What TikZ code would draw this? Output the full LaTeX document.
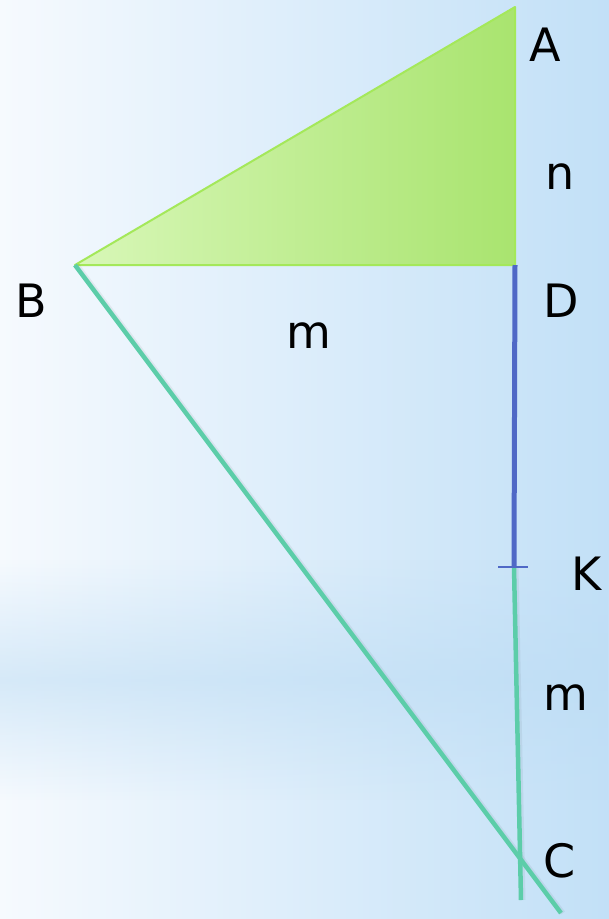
\documentclass[tikz,border=0pt]{standalone}
\usepackage{fontspec}
\setmainfont{DejaVu Sans}
\usetikzlibrary{fadings}
\definecolor{bgleft}{HTML}{F6FAFE}
\definecolor{bgright}{HTML}{C2E0F7}
\definecolor{bgband}{HTML}{BCDCF4}
\definecolor{triedge}{HTML}{A4E85A}
\definecolor{trileft}{HTML}{D8F7B8}
\definecolor{triright}{HTML}{A9E46F}
\definecolor{seggreen}{HTML}{5CCDA9}
\definecolor{segblue}{HTML}{4F68C6}
\tikzfading[name=bandfade, top color=transparent!100, bottom color=transparent!100, middle color=transparent!45]
\begin{document}
\begin{tikzpicture}[x=1pt, y=-1pt,
    lbl/.style={inner sep=0pt, font=\fontsize{46}{50}\selectfont},
    seg/.style={line width=4.5pt, seggreen},
    shadowline/.style={line width=2pt, black, opacity=0.05}]
    \useasboundingbox (0,0) rectangle (609,919);

    % Background
    \shade[left color=bgleft, right color=bgright] (0,0) rectangle (609,919);
    \fill[bgband, path fading=bandfade] (0,560) rectangle (609,800);

    % Points
    \coordinate (A) at (515,7);
    \coordinate (B) at (75,265);
    \coordinate (D) at (515,265);
    \coordinate (K) at (514,567);
    \coordinate (F) at (521,900);
    \coordinate (E) at (561,913);

    % Triangle ABD
    \foreach \i/\o in {2/0.14,4/0.10,6/0.07,8/0.04,10/0.02}
        \draw[shadowline, opacity=\o] ([xshift=18pt, yshift=\i pt]B) -- ([xshift=-3pt, yshift=\i pt]D);
    \shade[left color=trileft, right color=triright] (B) -- (A) -- (D) -- cycle;
    \draw[triedge, line width=2pt, line join=round] (B) -- (A) -- (D) -- cycle;

    % Segments
    \draw[shadowline, line width=5pt] ([xshift=2pt]B) -- ([xshift=2pt]E);
    \draw[shadowline, line width=5pt] ([xshift=2pt]K) -- ([xshift=2pt]F);
    \draw[seg] (B) -- (E);
    \draw[seg] (K) -- (F);
    \draw[segblue, line width=5pt] (D) -- (K);
    \draw[segblue, line width=1.2pt] ([xshift=-16pt]K) -- ([xshift=14pt]K);

    % Labels
    \node[lbl] (lA) at (545,45) {A};
    \node[lbl] (ln) at (560,177) {n};
    \node[lbl] (lB) at (31,301) {B};
    \node[lbl] (lD) at (561,301) {D};
    \node[lbl] (lm1) at (309,336) {m};
    \node[lbl] (lK) at (587,574) {K};
    \node[lbl] (lm2) at (566,698) {m};
    \node[lbl] (lC) at (560,861) {C};
\end{tikzpicture}
\end{document}
